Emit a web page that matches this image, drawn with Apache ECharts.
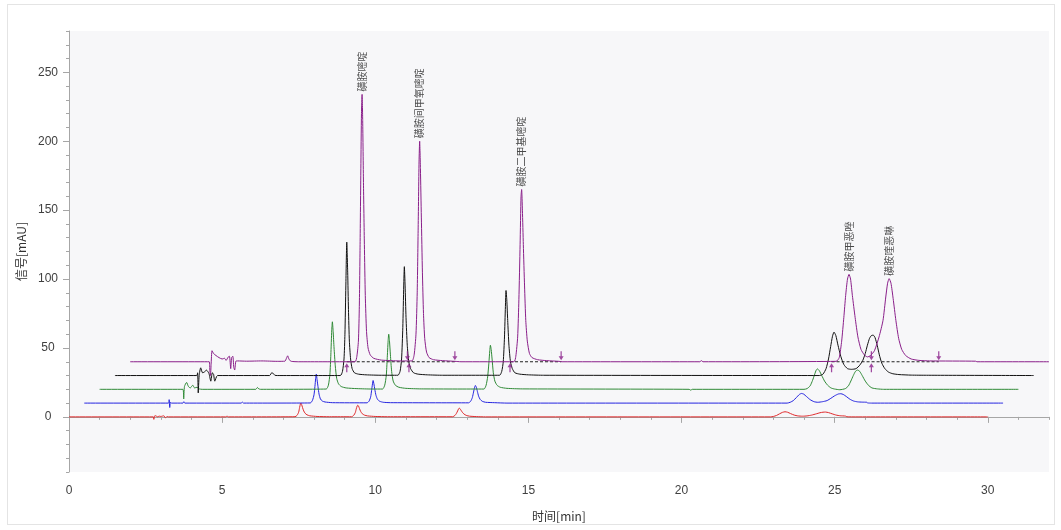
<!DOCTYPE html>
<html>
<head>
<meta charset="utf-8">
<script src="https://cdn.jsdelivr.net/npm/echarts@6/dist/echarts.min.js"></script>
<style>
  html, body { margin: 0; padding: 0; background: #ffffff; }
  #frame { position: absolute; left: 7px; top: 4px; width: 1048px; height: 521px; border: 1px solid #e4e4e4; box-sizing: border-box; }
  #chart { position: absolute; left: 0; top: 0; width: 1061px; height: 530px; }
</style>
</head>
<body>
<div id="frame"></div>
<div id="chart"></div>
<script>
// ---------- tick labels ----------
const timeTicks = [0, 5, 10, 15, 20, 25, 30];
const timeMinorTicks = [0,1,2,3,4,5,6,7,8,9,10,11,12,13,14,15,16,17,18,19,20,21,22,23,24,25,26,27,28,29,30,31,32];
const signalTicks = [0, 50, 100, 150, 200, 250];
const signalMinorTicks = [-40,-30,-20,-10,0,10,20,30,40,50,60,70,80,90,100,110,120,130,140,150,160,170,180,190,200,210,220,230,240,250,260,270,280];

// ---------- traces (time [min], signal [mAU]) as displayed (stacked) ----------
const redTrace = [
  [0,0],[2.75,0],[2.77,-1.8],[2.79,0.6],[2.84,0.8],[2.88,0],[2.95,0.5],[3.0,0.3],[3.1,0.8],[3.15,-0.8],[3.2,0.3],[3.25,0],
  [5.12,0],[5.16,0.6],[5.2,0],
  [7.38,0.1],[7.45,1.2],[7.5,3.5],[7.53,6.8],[7.555,9.3],[7.57,10.1],[7.595,9],[7.625,6.8],[7.665,4.3],[7.71,2.6],[7.77,1.5],[7.86,0.8],[8.1,0.3],[8.5,0.1],
  [9.23,0.1],[9.3,1.2],[9.35,3.2],[9.38,5.8],[9.41,7.9],[9.43,8.5],[9.455,7.8],[9.485,6],[9.525,3.9],[9.575,2.3],[9.645,1.3],[9.75,0.7],[10.0,0.3],[10.4,0.1],
  [12.53,0.1],[12.6,1],[12.65,2.5],[12.69,4.3],[12.72,5.8],[12.74,6.3],[12.77,5.9],[12.8,4.8],[12.845,3.3],[12.9,2],[12.97,1.1],[13.08,0.5],[13.3,0.2],[13.6,0],
  [22.9,0],[23.0,0.3],[23.1,1],[23.2,2.2],[23.3,3.3],[23.38,3.7],[23.46,3.4],[23.56,2.4],[23.68,1.3],[23.8,0.7],[23.95,0.5],[24.1,0.7],[24.25,1.3],[24.4,2.2],[24.52,3],[24.62,3.4],[24.7,3.5],[24.8,3.1],[24.92,2.2],[25.05,1.3],[25.18,0.8],[25.35,0.6],[25.4,0.1],[25.6,0],
  [30,0]
];
const blueTrace = [
  [0.5,10],[3.25,10],[3.27,12.5],[3.29,6.8],[3.31,10.5],[3.35,10],[3.72,10],[3.75,11],[3.78,10],
  [5.62,10],[5.66,10.7],[5.7,10],
  [7.88,10.1],[7.95,12],[8.0,16],[8.03,22],[8.055,28],[8.075,31],[8.1,27],[8.13,22],[8.165,16.5],[8.21,13],[8.27,11.5],[8.36,10.8],[8.6,10.3],
  [9.73,10.2],[9.8,11.5],[9.85,14.5],[9.88,19],[9.91,24],[9.93,26.4],[9.955,24],[9.985,20],[10.025,15.5],[10.075,12.7],[10.145,11.3],[10.26,10.6],[10.5,10.3],
  [13.05,10.2],[13.12,11.5],[13.17,14],[13.21,18],[13.245,21.5],[13.27,22.8],[13.3,21.5],[13.335,18.5],[13.375,15],[13.425,12.7],[13.495,11.3],[13.6,10.6],[13.9,10.3],[14.3,10],
  [23.45,10],[23.55,10.6],[23.65,11.8],[23.75,14],[23.85,16.3],[23.92,17],[23.99,16.5],[24.08,14.8],[24.2,12.5],[24.33,11],[24.45,10.6],[24.6,11],[24.75,11.8],[24.88,13.5],[25.0,15.3],[25.12,16.6],[25.2,16.8],[25.28,16.3],[25.38,14.8],[25.5,12.8],[25.62,11.5],[25.75,10.9],[25.9,10.7],[26.05,10.6],[26.08,10.1],[26.2,10],
  [30.5,10]
];
const greenTrace = [
  [1.0,20],[3.72,20],[3.745,13],[3.77,22],[3.84,25],[3.9,22],[3.96,21],[4.04,23],[4.1,21],[4.18,21.5],[4.25,20.3],[4.35,20],
  [6.1,20],[6.15,21.3],[6.2,20.3],[6.25,20],
  [8.4,20.2],[8.47,23],[8.52,31],[8.55,45],[8.58,63],[8.6,69],[8.625,62],[8.655,50],[8.695,37],[8.74,28],[8.8,24],[8.89,22],[9.05,21],[9.4,20.5],[9.9,20.2],
  [10.24,20.2],[10.31,23],[10.36,30],[10.39,42],[10.42,55],[10.44,60],[10.465,55],[10.495,45],[10.535,33],[10.585,26],[10.655,23],[10.77,21.5],[11.0,20.7],[11.5,20.3],
  [13.55,20.2],[13.62,23],[13.67,29],[13.71,39],[13.74,48],[13.76,52],[13.785,49],[13.815,42],[13.855,32],[13.905,26],[13.975,23],[14.08,21.5],[14.3,20.7],[14.8,20.3],
  [20.25,20],[20.3,19.4],[20.35,20],
  [24.0,20],[24.1,20.5],[24.2,22.5],[24.28,26.5],[24.35,31],[24.4,34],[24.44,34.8],[24.5,33.5],[24.58,30],[24.67,26],[24.77,23],[24.88,21],[25.0,20.2],[25.17,19.7],[25.35,20.5],[25.45,22.5],[25.53,26],[25.61,30],[25.68,33],[25.75,34],[25.82,33],[25.9,30],[26.0,26],[26.1,23],[26.22,21],[26.4,20.3],[26.6,20],
  [31.0,20]
];
const blackTrace = [
  [1.5,30],[4.17,30],[4.2,32],[4.22,17.4],[4.25,30],[4.3,35.6],[4.36,32],[4.41,32.4],[4.49,33.9],[4.57,31.5],[4.63,25.9],[4.68,32],[4.72,31],[4.76,25.9],[4.85,30],
  [6.55,30],[6.62,32],[6.67,31.5],[6.72,30.2],[6.8,30],
  [8.86,30],[8.93,33],[8.98,42],[9.01,60],[9.04,95],[9.07,126.8],[9.1,105],[9.125,78],[9.155,55],[9.195,42],[9.245,35],[9.32,32],[9.45,31],[9.7,30.5],[10.2,30.2],
  [10.74,30.2],[10.81,33],[10.86,42],[10.9,65],[10.93,95],[10.95,109],[10.975,95],[11.005,72],[11.045,52],[11.095,40],[11.155,35],[11.25,32],[11.4,31],[11.7,30.5],[12.2,30.2],
  [14.06,30.2],[14.13,33],[14.18,40],[14.22,58],[14.25,80],[14.27,91.7],[14.295,85],[14.325,70],[14.365,52],[14.415,40],[14.475,35],[14.56,32],[14.72,31],[15.0,30.5],[15.5,30.2],
  [24.5,30],[24.62,31],[24.72,35],[24.8,42],[24.87,51],[24.93,58.5],[24.98,61.5],[25.04,59],[25.11,52],[25.2,44],[25.3,38],[25.42,35],[25.55,34.5],[25.7,35],[25.82,37.5],[25.92,41],[26.0,46],[26.07,52],[26.14,57],[26.2,59],[26.26,59.3],[26.32,57.5],[26.39,52],[26.46,45],[26.54,39],[26.64,35],[26.76,32.5],[26.9,31.3],[27.1,30.7],[27.5,30.3],[28.0,30.2],
  [31.5,30]
];
const purpleTrace = [
  [2.0,40],[4.58,40],[4.6,33],[4.62,30],[4.64,38],[4.67,48],[4.72,46],[4.8,44.5],[4.9,43],[5.0,42],[5.08,42.5],[5.13,41],[5.2,43.5],[5.24,44],[5.28,35],[5.31,43],[5.35,44],[5.38,36],[5.41,34],[5.45,40.5],[5.5,40.6],[5.8,40.4],[6.3,40.6],[6.8,40.3],[7.05,40.4],[7.1,42.5],[7.14,44.3],[7.19,41.5],[7.26,40.3],[7.5,40],
  [9.34,40],[9.4,44],[9.45,55],[9.48,80],[9.505,125],[9.53,180],[9.55,220],[9.57,234],[9.59,215],[9.615,170],[9.645,125],[9.675,88],[9.715,62],[9.765,50],[9.835,45],[9.95,42.5],[10.2,41.2],[10.8,40.6],
  [11.2,40.6],[11.27,45],[11.33,60],[11.37,90],[11.4,135],[11.43,185],[11.45,200],[11.475,180],[11.505,145],[11.54,105],[11.575,75],[11.615,57],[11.675,47],[11.76,43],[11.9,41.5],[12.2,40.8],[12.6,40.3],[12.8,40],
  [14.53,40],[14.59,44],[14.65,58],[14.69,85],[14.73,125],[14.76,160],[14.78,165],[14.805,150],[14.835,125],[14.875,95],[14.915,70],[14.965,55],[15.035,46],[15.12,43],[15.3,41.5],[15.6,40.8],[16.0,40.3],[16.1,40],
  [20.6,40],[20.65,40.8],[20.7,40],
  [25.05,40.3],[25.15,43],[25.23,55],[25.3,72],[25.36,88],[25.42,100],[25.47,103.4],[25.52,100],[25.58,88],[25.67,72],[25.76,58],[25.86,49],[25.97,45],[26.07,43.5],[26.17,44.5],[26.3,48],[26.45,58],[26.58,70],[26.67,87],[26.73,97],[26.78,100.3],[26.84,97],[26.91,86],[27.0,70],[27.09,57],[27.19,49],[27.32,44.5],[27.5,42],[27.75,41],[28.1,40.6],[29.6,40.4],[29.65,40],
  [32.0,40]
];

// ---------- peak annotations (purple trace) ----------
const peakNames = ['磺胺嘧啶', '磺胺间甲氧嘧啶', '磺胺二甲基嘧啶', '磺胺甲恶唑', '磺胺喹恶啉'];
const peakTimes = [9.57, 11.45, 14.78, 25.47, 26.78];
const peakApex = [234, 200, 165, 103.4, 100.3];

// ---------- integration baseline & markers ----------
const integLevel = 40;
const integStart = [9.07, 11.1, 14.4, 24.9, 26.2];
const integEnd = [11.05, 12.6, 16.07, 26.2, 28.4];
const baselineSegments = [[9.07, 12.6], [14.4, 16.07], [24.9, 28.4]];

// ---------- build ----------
const dashedData = [];
baselineSegments.forEach(function (s, i) {
  if (i > 0) dashedData.push([s[0] - 0.01, '-']);
  dashedData.push([s[0], integLevel]);
  dashedData.push([s[1], integLevel]);
});

const ARROW_DOWN = 'path://M1.5,0 L2.5,0 L2.5,5 L4,5 L2,9 L0,5 L1.5,5 Z';
const ARROW_UP = 'path://M2,0 L4,4 L2.5,4 L2.5,9 L1.5,9 L1.5,4 L0,4 Z';

function trace(data, color, z) {
  return {
    type: 'line', data: data, showSymbol: false, symbol: 'none', smooth: 0.2,
    lineStyle: { color: color, width: 1 }, itemStyle: { color: color },
    z: z, animation: false, silent: true
  };
}

const numFont = 'Liberation Sans, Arial, sans-serif';
const cjkFont = 'Noto Sans CJK SC, sans-serif';
const axisColor = '#a6a6a6';

const option = {
  animation: false,
  grid: { left: 69, right: 12, top: 31, bottom: 58, show: true, backgroundColor: '#f7f7f9', borderWidth: 0 },
  xAxis: [
    {
      type: 'value', min: 0, max: 32,
      name: '时间[min]', nameLocation: 'middle', nameGap: 38,
      nameTextStyle: { fontFamily: cjkFont, fontSize: 12, color: '#333' },
      axisLine: { show: true, lineStyle: { color: axisColor, width: 1 } },
      axisTick: { show: true, customValues: timeTicks, length: 6, lineStyle: { color: axisColor } },
      axisLabel: { customValues: timeTicks, margin: 13, fontFamily: numFont, fontSize: 12, color: '#404040' },
      splitLine: { show: false }
    },
    {
      type: 'value', min: 0, max: 32, position: 'bottom',
      axisLine: { show: false },
      axisTick: { show: true, customValues: timeMinorTicks, length: 3, lineStyle: { color: axisColor } },
      axisLabel: { show: false }, splitLine: { show: false }
    }
  ],
  yAxis: [
    {
      type: 'value', min: -40, max: 280,
      name: '信号[mAU]', nameLocation: 'middle', nameGap: 36,
      nameTextStyle: { fontFamily: cjkFont, fontSize: 12, color: '#333' },
      axisLine: { show: true, lineStyle: { color: axisColor, width: 1 } },
      axisTick: { show: true, customValues: signalTicks, length: 6, lineStyle: { color: axisColor } },
      axisLabel: { customValues: signalTicks, margin: 21, align: 'center', fontFamily: numFont, fontSize: 12, color: '#404040' },
      splitLine: { show: false }
    },
    {
      type: 'value', min: -40, max: 280, position: 'left',
      axisLine: { show: false },
      axisTick: { show: true, customValues: signalMinorTicks, length: 3, lineStyle: { color: axisColor } },
      axisLabel: { show: false }, splitLine: { show: false }
    }
  ],
  series: [
    trace(redTrace, '#e0282a', 2),
    trace(blueTrace, '#2424e0', 3),
    trace(greenTrace, '#2f8a36', 4),
    {
      type: 'line', data: dashedData, showSymbol: false, symbol: 'none', connectNulls: false,
      lineStyle: { color: '#222', width: 1, type: [3, 2] }, z: 4, animation: false, silent: true
    },
    trace(blackTrace, '#111111', 5),
    trace(purpleTrace, '#8a1f8a', 6),
    {
      type: 'scatter', z: 7, animation: false, silent: true,
      symbol: ARROW_UP, symbolSize: [5, 9], symbolOffset: [0, 6],
      itemStyle: { color: '#8a1f8a' },
      data: integStart.map(function (t) { return [t, integLevel]; })
    },
    {
      type: 'scatter', z: 7, animation: false, silent: true,
      symbol: ARROW_DOWN, symbolSize: [5, 9], symbolOffset: [0, -6],
      itemStyle: { color: '#8a1f8a' },
      data: integEnd.map(function (t) { return [t, integLevel]; })
    },
    {
      type: 'scatter', z: 8, animation: false, silent: true,
      symbolSize: 0,
      data: peakNames.map(function (n, i) { return { name: n, value: [peakTimes[i], peakApex[i]] }; }),
      label: {
        show: true, formatter: '{b}', position: 'top', distance: 3,
        rotate: 90, align: 'left', verticalAlign: 'middle',
        fontFamily: cjkFont, fontSize: 10, color: '#1a1a1a'
      }
    }
  ]
};

const chart = echarts.init(document.getElementById('chart'), null, { renderer: 'canvas' });
chart.setOption(option);
</script>
</body>
</html>
